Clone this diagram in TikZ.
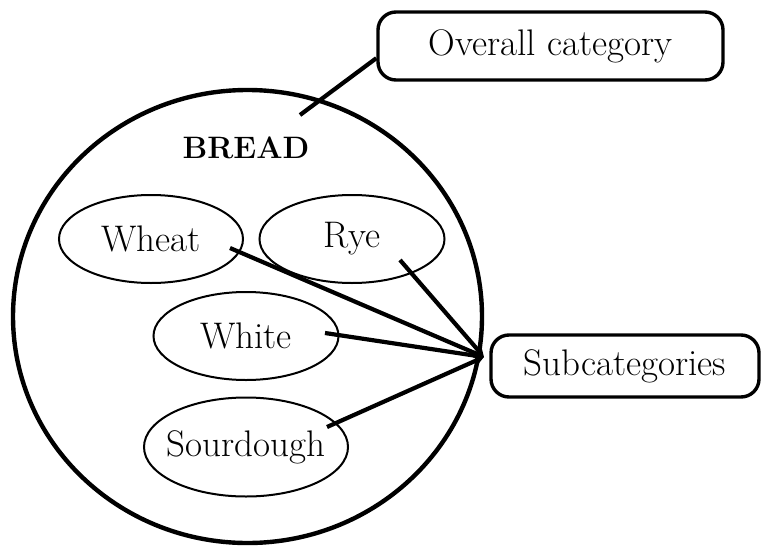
\documentclass[tikz,border=0pt]{standalone}
\usepackage{fontspec}
\usetikzlibrary{shapes.geometric,arrows.meta}
\begin{document}
\begin{tikzpicture}[x=1pt,y=-1pt,
  txt/.style={font=\fontsize{37}{44}\selectfont},
  sub/.style={draw,ellipse,line width=2pt,inner sep=0pt,txt},
  lbl/.style={draw,rounded corners=18pt,line width=3.4pt,inner sep=0pt,txt},
  conn/.style={line width=4.2pt,-{Stealth[length=10pt,width=10pt]}}]
\useasboundingbox (0,0) rectangle (762,546);
\node[draw,ellipse,line width=4.4pt,minimum width=469pt,minimum height=453pt] (circ) at (247.5,316.5) {};
\node[font=\fontsize{31}{37}\selectfont\bfseries] (bread) at (246,148) {BREAD};
\node[sub,minimum width=184pt,minimum height=88pt] (wheat) at (151,239) {Wheat};
\node[sub,minimum width=185pt,minimum height=88pt] (rye) at (352,239) {Rye};
\node[sub,minimum width=185pt,minimum height=88pt] (white) at (246,336) {White};
\node[sub,inner xsep=-12pt,minimum width=204pt,minimum height=99pt] (sour) at (246,447) {Sourdough};
\node[lbl,minimum width=345pt,minimum height=68pt] (overall) at (550.5,46) {Overall category};
\node[lbl,minimum width=268pt,minimum height=62pt] (subc) at (625,366) {Subcategories};
\coordinate (hub) at (484,357);
\coordinate (wS) at (230,248);
\coordinate (rS) at (400,260);
\coordinate (whS) at (325,333);
\coordinate (sS) at (327,427);
\coordinate (oS) at (300,115);
\draw[conn] (wS) -- (hub);
\draw[conn] (rS) -- (hub);
\draw[conn] (whS) -- (hub);
\draw[conn] (sS) -- (hub);
\draw[line width=4.2pt] (oS) -- (overall.184);
\end{tikzpicture}
\end{document}
